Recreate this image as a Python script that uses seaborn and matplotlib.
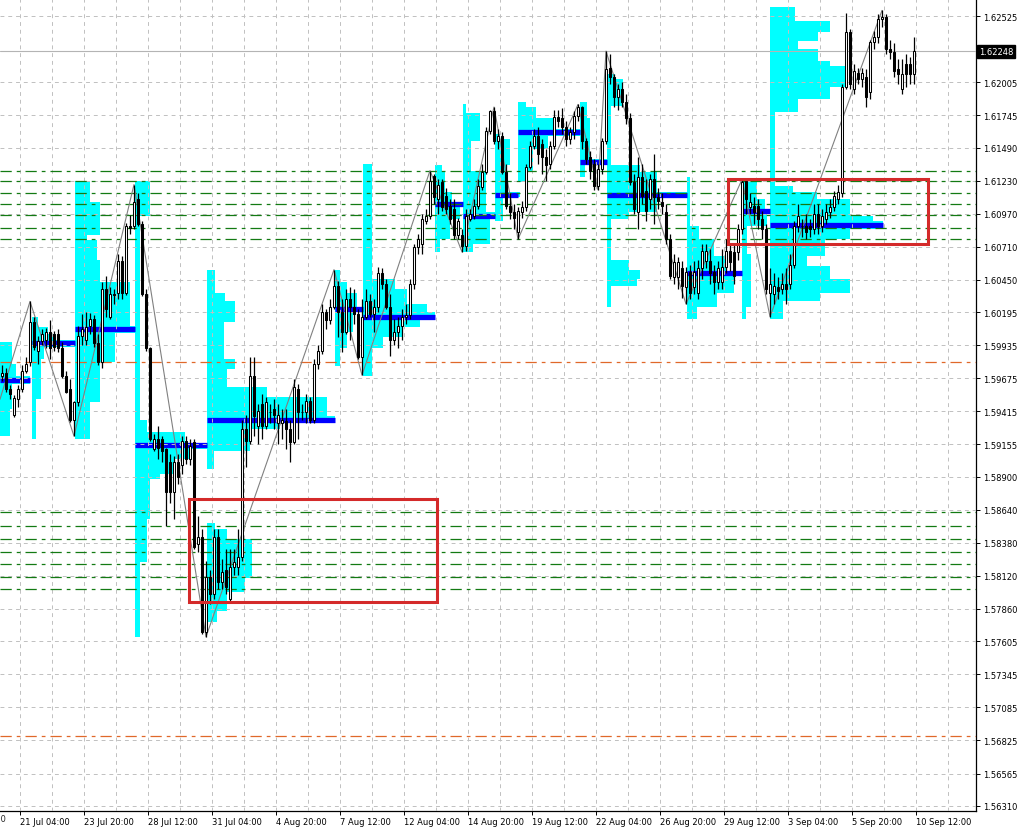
import matplotlib
matplotlib.use("Agg")
import matplotlib.pyplot as plt
import matplotlib.transforms as mtrans
from matplotlib.patches import Rectangle
import seaborn as sns
import numpy as np
import pandas as pd

### H4 candles, bar 0 = first bar on the left edge ###

opens = [
    1.5969, 1.5972, 1.5959, 1.5939, 1.5951, 1.5959, 1.5973, 1.5980, 1.6012, 1.5989,
    1.5997, 1.5998, 1.6004, 1.6002, 1.6002, 1.5991, 1.5969, 1.5959, 1.5935, 1.5949,
    1.6001, 1.5998, 1.6009, 1.6014, 1.5995, 1.5980, 1.6038, 1.6016, 1.6034, 1.6035,
    1.6060, 1.6035, 1.6087, 1.6087, 1.6109, 1.6089, 1.6034, 1.5991, 1.5912, 1.5920,
    1.5920, 1.5912, 1.5902, 1.5878, 1.5902, 1.5899, 1.5918, 1.5904, 1.5917, 1.5837,
    1.5843, 1.5768, 1.5811, 1.5798, 1.5843, 1.5807, 1.5817, 1.5794, 1.5819, 1.5819,
    1.5827, 1.5928, 1.5918, 1.5969, 1.5930, 1.5947, 1.5930, 1.5941, 1.5943, 1.5932,
    1.5932, 1.5934, 1.5928, 1.5917, 1.5959, 1.5941, 1.5941, 1.5950, 1.5935, 1.5979,
    1.5989, 1.6020, 1.6013, 1.6024, 1.6040, 1.6020, 1.6004, 1.6030, 1.6024, 1.6018,
    1.5984, 1.6016, 1.6028, 1.6018, 1.6024, 1.6050, 1.6042, 1.6024, 1.5998, 1.6004,
    1.6009, 1.6016, 1.6017, 1.6042, 1.6071, 1.6073, 1.6091, 1.6095, 1.6127, 1.6109,
    1.6122, 1.6111, 1.6103, 1.6101, 1.6080, 1.6080, 1.6072, 1.6093, 1.6095, 1.6103,
    1.6118, 1.6130, 1.6162, 1.6178, 1.6154, 1.6158, 1.6130, 1.6103, 1.6098, 1.6083,
    1.6098, 1.6102, 1.6134, 1.6150, 1.6158, 1.6152, 1.6142, 1.6136, 1.6150, 1.6173,
    1.6172, 1.6165, 1.6156, 1.6161, 1.6174, 1.6181, 1.6154, 1.6142, 1.6136, 1.6119,
    1.6132, 1.6154, 1.6212, 1.6205, 1.6189, 1.6195, 1.6185, 1.6172, 1.6122, 1.6098,
    1.6126, 1.6115, 1.6109, 1.6124, 1.6110, 1.6106, 1.6098, 1.6077, 1.6047, 1.6047,
    1.6054, 1.6039, 1.6051, 1.6039, 1.6035, 1.6054, 1.6060, 1.6060, 1.6051, 1.6043,
    1.6043, 1.6055, 1.6068, 1.6067, 1.6067, 1.6085, 1.6123, 1.6102, 1.6103, 1.6103,
    1.6093, 1.6085, 1.6035, 1.6034, 1.6039, 1.6038, 1.6042, 1.6042, 1.6057, 1.6087,
    1.6087, 1.6087, 1.6087, 1.6085, 1.6097, 1.6087, 1.6093, 1.6098, 1.6102, 1.6109,
    1.6113, 1.6197, 1.6240, 1.6195, 1.6208, 1.6203, 1.6205, 1.6193, 1.6232, 1.6236,
    1.6250, 1.6252, 1.6227, 1.6224, 1.6211, 1.6195, 1.6215, 1.6215, 1.6207,
]

closes = [
    1.5972, 1.5959, 1.5955, 1.5952, 1.5959, 1.5973, 1.5979, 1.6012, 1.5992, 1.5997,
    1.6002, 1.6004, 1.5991, 1.5992, 1.5991, 1.5969, 1.5957, 1.5935, 1.5949, 1.6001,
    1.6006, 1.6008, 1.6014, 1.5995, 1.5980, 1.6038, 1.6022, 1.6034, 1.6033, 1.6060,
    1.6035, 1.6087, 1.6086, 1.6106, 1.6089, 1.6034, 1.5991, 1.5920, 1.5920, 1.5913,
    1.5910, 1.5878, 1.5878, 1.5902, 1.5890, 1.5918, 1.5904, 1.5914, 1.5835, 1.5843,
    1.5768, 1.5811, 1.5798, 1.5843, 1.5807, 1.5815, 1.5803, 1.5819, 1.5823, 1.5827,
    1.5928, 1.5918, 1.5969, 1.5938, 1.5942, 1.5930, 1.5949, 1.5941, 1.5939, 1.5939,
    1.5935, 1.5928, 1.5917, 1.5961, 1.5941, 1.5941, 1.5950, 1.5935, 1.5979, 1.5989,
    1.6020, 1.6013, 1.6024, 1.6040, 1.6020, 1.6004, 1.6030, 1.6024, 1.6018, 1.5984,
    1.6016, 1.6028, 1.6018, 1.6024, 1.6050, 1.6042, 1.6024, 1.5998, 1.6004, 1.6009,
    1.6016, 1.6017, 1.6042, 1.6071, 1.6077, 1.6093, 1.6095, 1.6123, 1.6110, 1.6120,
    1.6102, 1.6101, 1.6093, 1.6080, 1.6091, 1.6072, 1.6095, 1.6097, 1.6103, 1.6119,
    1.6130, 1.6162, 1.6178, 1.6154, 1.6158, 1.6130, 1.6103, 1.6098, 1.6094, 1.6099,
    1.6102, 1.6134, 1.6150, 1.6158, 1.6144, 1.6142, 1.6135, 1.6150, 1.6173, 1.6170,
    1.6165, 1.6156, 1.6161, 1.6174, 1.6181, 1.6154, 1.6140, 1.6131, 1.6119, 1.6132,
    1.6154, 1.6211, 1.6205, 1.6189, 1.6195, 1.6185, 1.6172, 1.6122, 1.6101, 1.6126,
    1.6111, 1.6099, 1.6124, 1.6110, 1.6107, 1.6103, 1.6077, 1.6048, 1.6059, 1.6059,
    1.6040, 1.6051, 1.6035, 1.6051, 1.6054, 1.6068, 1.6068, 1.6050, 1.6043, 1.6054,
    1.6055, 1.6068, 1.6059, 1.6048, 1.6085, 1.6122, 1.6109, 1.6106, 1.6098, 1.6093,
    1.6085, 1.6038, 1.6042, 1.6040, 1.6036, 1.6042, 1.6038, 1.6057, 1.6087, 1.6095,
    1.6087, 1.6083, 1.6085, 1.6097, 1.6087, 1.6095, 1.6098, 1.6102, 1.6111, 1.6114,
    1.6197, 1.6240, 1.6199, 1.6209, 1.6203, 1.6208, 1.6189, 1.6232, 1.6236, 1.6250,
    1.6252, 1.6227, 1.6224, 1.6209, 1.6207, 1.6207, 1.6207, 1.6207, 1.6225,
]

highs = [
    1.5978, 1.5976, 1.5962, 1.5954, 1.5962, 1.5978, 1.5984, 1.6028, 1.6016, 1.6001,
    1.6006, 1.6007, 1.6013, 1.6005, 1.6006, 1.5996, 1.5973, 1.5967, 1.5950, 1.6009,
    1.6018, 1.6020, 1.6019, 1.6017, 1.6002, 1.6043, 1.6048, 1.6039, 1.6038, 1.6065,
    1.6064, 1.6090, 1.6096, 1.6120, 1.6113, 1.6091, 1.6038, 1.5992, 1.5924, 1.5930,
    1.5922, 1.5913, 1.5908, 1.5906, 1.5908, 1.5922, 1.5922, 1.5920, 1.5920, 1.5859,
    1.5849, 1.5824, 1.5817, 1.5849, 1.5849, 1.5825, 1.5833, 1.5833, 1.5833, 1.5849,
    1.5935, 1.5939, 1.5984, 1.5984, 1.5947, 1.5955, 1.5953, 1.5947, 1.5951, 1.5947,
    1.5943, 1.5943, 1.5935, 1.5967, 1.5963, 1.5947, 1.5955, 1.5953, 1.5983, 1.5994,
    1.6026, 1.6022, 1.6030, 1.6053, 1.6044, 1.6030, 1.6038, 1.6039, 1.6038, 1.6022,
    1.6030, 1.6038, 1.6034, 1.6030, 1.6055, 1.6054, 1.6046, 1.6034, 1.6014, 1.6016,
    1.6022, 1.6026, 1.6046, 1.6073, 1.6081, 1.6097, 1.6101, 1.6131, 1.6128, 1.6124,
    1.6124, 1.6117, 1.6109, 1.6109, 1.6094, 1.6085, 1.6101, 1.6101, 1.6109, 1.6124,
    1.6136, 1.6165, 1.6179, 1.6181, 1.6164, 1.6161, 1.6136, 1.6113, 1.6105, 1.6102,
    1.6107, 1.6136, 1.6154, 1.6164, 1.6165, 1.6156, 1.6148, 1.6154, 1.6179, 1.6179,
    1.6180, 1.6170, 1.6165, 1.6178, 1.6183, 1.6182, 1.6157, 1.6146, 1.6140, 1.6136,
    1.6157, 1.6225, 1.6223, 1.6207, 1.6199, 1.6201, 1.6191, 1.6176, 1.6128, 1.6142,
    1.6136, 1.6124, 1.6128, 1.6144, 1.6117, 1.6113, 1.6105, 1.6081, 1.6065, 1.6063,
    1.6060, 1.6055, 1.6057, 1.6060, 1.6061, 1.6073, 1.6073, 1.6069, 1.6057, 1.6060,
    1.6069, 1.6077, 1.6073, 1.6073, 1.6089, 1.6124, 1.6124, 1.6113, 1.6110, 1.6109,
    1.6099, 1.6089, 1.6054, 1.6050, 1.6047, 1.6050, 1.6054, 1.6065, 1.6091, 1.6105,
    1.6093, 1.6097, 1.6093, 1.6105, 1.6105, 1.6101, 1.6105, 1.6109, 1.6115, 1.6120,
    1.6199, 1.6255, 1.6242, 1.6215, 1.6212, 1.6212, 1.6211, 1.6234, 1.6241, 1.6254,
    1.6257, 1.6254, 1.6234, 1.6231, 1.6219, 1.6219, 1.6223, 1.6220, 1.6236,
]

lows = [
    1.5965, 1.5957, 1.5951, 1.5937, 1.5945, 1.5957, 1.5972, 1.5977, 1.5990, 1.5979,
    1.5994, 1.5991, 1.5983, 1.5989, 1.5988, 1.5968, 1.5956, 1.5933, 1.5922, 1.5946,
    1.5994, 1.5994, 1.6002, 1.5992, 1.5978, 1.5976, 1.6016, 1.6014, 1.6026, 1.6030,
    1.6030, 1.6033, 1.6081, 1.6085, 1.6087, 1.6032, 1.5989, 1.5918, 1.5910, 1.5904,
    1.5902, 1.5851, 1.5869, 1.5857, 1.5884, 1.5892, 1.5900, 1.5899, 1.5833, 1.5831,
    1.5766, 1.5764, 1.5790, 1.5794, 1.5802, 1.5802, 1.5798, 1.5791, 1.5813, 1.5813,
    1.5824, 1.5898, 1.5916, 1.5922, 1.5916, 1.5920, 1.5928, 1.5932, 1.5928, 1.5916,
    1.5920, 1.5912, 1.5902, 1.5916, 1.5920, 1.5935, 1.5932, 1.5932, 1.5932, 1.5975,
    1.5987, 1.6006, 1.6010, 1.6022, 1.6000, 1.5988, 1.6002, 1.5998, 1.6010, 1.5983,
    1.5970, 1.6014, 1.6016, 1.6004, 1.6020, 1.6038, 1.6022, 1.5985, 1.5994, 1.5991,
    1.5998, 1.6010, 1.6014, 1.6038, 1.6065, 1.6065, 1.6089, 1.6093, 1.6105, 1.6097,
    1.6099, 1.6097, 1.6089, 1.6077, 1.6077, 1.6067, 1.6068, 1.6091, 1.6093, 1.6101,
    1.6116, 1.6128, 1.6160, 1.6152, 1.6148, 1.6128, 1.6101, 1.6093, 1.6085, 1.6077,
    1.6094, 1.6099, 1.6132, 1.6148, 1.6136, 1.6128, 1.6123, 1.6132, 1.6148, 1.6165,
    1.6160, 1.6150, 1.6152, 1.6156, 1.6170, 1.6148, 1.6136, 1.6124, 1.6116, 1.6116,
    1.6128, 1.6152, 1.6199, 1.6181, 1.6179, 1.6181, 1.6168, 1.6120, 1.6097, 1.6085,
    1.6105, 1.6091, 1.6101, 1.6089, 1.6101, 1.6097, 1.6073, 1.6046, 1.6042, 1.6038,
    1.6031, 1.6026, 1.6030, 1.6034, 1.6030, 1.6046, 1.6054, 1.6042, 1.6034, 1.6038,
    1.6038, 1.6050, 1.6052, 1.6042, 1.6061, 1.6081, 1.6097, 1.6097, 1.6089, 1.6085,
    1.6077, 1.6034, 1.6016, 1.6026, 1.6030, 1.6034, 1.6026, 1.6038, 1.6054, 1.6083,
    1.6079, 1.6077, 1.6079, 1.6081, 1.6081, 1.6083, 1.6089, 1.6094, 1.6099, 1.6105,
    1.6110, 1.6195, 1.6195, 1.6191, 1.6199, 1.6197, 1.6181, 1.6187, 1.6227, 1.6231,
    1.6244, 1.6223, 1.6219, 1.6205, 1.6199, 1.6191, 1.6197, 1.6199, 1.6199,
]

### zigzag (bar position, price) ###
zz_bar = [0.0, 7.5, 18.5, 33.5, 51.5, 83.5, 90.5, 107.5, 115.5, 123.5, 129.5,
          144.5, 149.5, 151.5, 171.5, 185.5, 192.5, 220.5]
zz_price = [1.5951, 1.6028, 1.5922, 1.6120, 1.5764, 1.6053, 1.5970, 1.6131, 1.6067,
            1.6181, 1.6077, 1.6183, 1.6116, 1.6225, 1.6026, 1.6124, 1.6016, 1.6257]

### volume profiles : (price high, price low, length in bars) ###
vp01 = [(1.5996, 1.5979, 3), (1.5979, 1.5969, 4), (1.5969, 1.5963, 7.5), (1.5963, 1.5943, 3),
        (1.5943, 1.5922, 2.5)]
vp02 = [(1.6016, 1.6008, 1.5), (1.6008, 1.6002, 4), (1.6002, 1.5998, 6), (1.5998, 1.5992, 10.75),
        (1.5992, 1.5983, 3), (1.5983, 1.5951, 2.25), (1.5951, 1.5920, 1)]
vp03 = [(1.6123, 1.6106, 3.75), (1.6106, 1.6080, 6.25), (1.6080, 1.6076, 3), (1.6076, 1.6061, 5.5),
        (1.6061, 1.6043, 6.25), (1.6043, 1.6009, 13.75), (1.6009, 1.6003, 15), (1.6003, 1.5980, 10),
        (1.5980, 1.5949, 6.25), (1.5949, 1.5920, 3.75)]
vp04 = [(1.6123, 1.6095, 3.75), (1.6095, 1.5935, 1.25), (1.5935, 1.5925, 3), (1.5925, 1.5916, 12.5),
        (1.5916, 1.5912, 18), (1.5912, 1.5904, 13.75), (1.5904, 1.5892, 10), (1.5892, 1.5888, 6.25),
        (1.5888, 1.5857, 3.75), (1.5857, 1.5823, 3), (1.5823, 1.5764, 1.25)]
vp05 = [(1.6053, 1.6035, 2), (1.6035, 1.6028, 4.5), (1.6028, 1.6012, 7), (1.6012, 1.5983, 4.25),
        (1.5983, 1.5975, 7), (1.5975, 1.5961, 5), (1.5961, 1.5953, 15), (1.5953, 1.5938, 30),
        (1.5938, 1.5933, 32), (1.5933, 1.5928, 18.25), (1.5928, 1.5910, 10.75), (1.5910, 1.5896, 1.75),
        (1.5854, 1.5849, 2), (1.5849, 1.5841, 5), (1.5841, 1.5810, 11.25), (1.5810, 1.5799, 9.5),
        (1.5799, 1.5784, 5), (1.5784, 1.5776, 2.5)]
vp06 = [(1.6053, 1.6043, 1.25), (1.6043, 1.6035, 3), (1.6035, 1.6024, 5.5), (1.6024, 1.6020, 7),
        (1.6020, 1.6004, 4.5), (1.6004, 1.5991, 3), (1.5991, 1.5977, 1.25)]
vp07 = [(1.6136, 1.6046, 2.25), (1.6046, 1.6038, 8), (1.6038, 1.6026, 11), (1.6026, 1.6020, 16),
        (1.6020, 1.6013, 18), (1.6013, 1.6008, 14.25), (1.6008, 1.6000, 10), (1.6000, 1.5991, 5),
        (1.5991, 1.5969, 2.25)]
vp08 = [(1.6135, 1.6130, 1.75), (1.6130, 1.6114, 2.5), (1.6114, 1.6106, 4.25), (1.6106, 1.6102, 7),
        (1.6102, 1.6093, 6.25), (1.6093, 1.6077, 3.75), (1.6077, 1.6067, 1.25)]
vp09 = [(1.6183, 1.6176, 0.75), (1.6176, 1.6154, 4.25), (1.6154, 1.6131, 2), (1.6131, 1.6098, 5.75),
        (1.6098, 1.6093, 8), (1.6093, 1.6073, 6.75), (1.6073, 1.6067, 2.5)]
vp10 = [(1.6160, 1.6156, 1.25), (1.6156, 1.6135, 3.75), (1.6135, 1.6114, 3), (1.6114, 1.6110, 6.25),
        (1.6110, 1.6091, 2)]
vp11 = [(1.6185, 1.6181, 2), (1.6181, 1.6172, 4.5), (1.6172, 1.6164, 9.5), (1.6164, 1.6158, 15.5),
        (1.6158, 1.6148, 7.5), (1.6148, 1.6130, 3.75), (1.6130, 1.6122, 1.75)]
vp12 = [(1.6185, 1.6172, 1.75), (1.6172, 1.6140, 2.5), (1.6140, 1.6135, 6.75), (1.6135, 1.6126, 1.25)]
vp13 = [(1.6207, 1.6203, 2), (1.6203, 1.6182, 4), (1.6182, 1.6135, 1), (1.6135, 1.6130, 8.25),
        (1.6130, 1.6114, 12.5), (1.6114, 1.6110, 20), (1.6110, 1.6098, 12.5), (1.6098, 1.6093, 5.5),
        (1.6093, 1.6061, 1), (1.6061, 1.6053, 5.5), (1.6053, 1.6046, 8.25), (1.6046, 1.6040, 7.5),
        (1.6040, 1.6024, 1)]
vp14 = [(1.6126, 1.6087, 0.75), (1.6087, 1.6077, 3), (1.6077, 1.6064, 6.75), (1.6064, 1.6051, 10),
        (1.6051, 1.6048, 13.75), (1.6048, 1.6035, 11.75), (1.6035, 1.6024, 7.5), (1.6024, 1.6014, 2.5)]
vp15 = [(1.6124, 1.6109, 3.75), (1.6109, 1.6101, 5.75), (1.6101, 1.6098, 7.5), (1.6098, 1.6087, 6.25),
        (1.6087, 1.6065, 1.25), (1.6065, 1.6024, 2.25), (1.6024, 1.6014, 1)]
vp16 = [(1.6260, 1.6249, 6.25), (1.6249, 1.6240, 15), (1.6240, 1.6233, 12), (1.6233, 1.6227, 7),
        (1.6227, 1.6217, 12), (1.6217, 1.6213, 15), (1.6213, 1.6197, 18.75), (1.6197, 1.6187, 15),
        (1.6187, 1.6177, 7), (1.6177, 1.6119, 1.25), (1.6119, 1.6114, 5.75), (1.6114, 1.6109, 11.75),
        (1.6109, 1.6095, 20), (1.6095, 1.6091, 25.75), (1.6091, 1.6085, 28.25), (1.6085, 1.6077, 20),
        (1.6077, 1.6064, 13.75), (1.6064, 1.6056, 9.25), (1.6056, 1.6046, 15), (1.6046, 1.6035, 20),
        (1.6035, 1.6028, 12.5), (1.6028, 1.6014, 3.25)]

vp_start = [0, 8, 18.75, 33.75, 51.75, 83.75, 90.75, 108.75, 115.75, 123.75, 129.5,
            145, 151.75, 171.75, 185.5, 192.5]
vp_list = [vp01, vp02, vp03, vp04, vp05, vp06, vp07, vp08, vp09, vp10, vp11, vp12,
           vp13, vp14, vp15, vp16]

### POC lines ###
poc_price = [1.5966, 1.5995, 1.6006, 1.5915, 1.5935, 1.6022, 1.6016, 1.6105, 1.6095, 1.6112,
             1.6161, 1.6138, 1.6112, 1.6050, 1.6099, 1.6088]
poc_end = [7.5, 18.75, 33.75, 51.75, 83.75, 90.75, 108.75, 115.75, 123.75, 129.5, 145,
           151.75, 171.75, 185.5, 192.5, 220.75]

### levels ###
green_levels = [1.6131, 1.6123, 1.6113, 1.6105, 1.6096, 1.6086, 1.6077,
                1.5862, 1.5851, 1.5841, 1.5831, 1.5821, 1.5811, 1.5802]
orange_levels = [1.5980, 1.5686]
boxes = [(47.25, 109.25, 1.57914, 1.58725), (182, 232, 1.60732, 1.61243)]
last_price = 1.62248

y_ticks = [1.62525, 1.62005, 1.61745, 1.61490, 1.61230, 1.60970, 1.60710, 1.60450, 1.60195,
           1.59935, 1.59675, 1.59415, 1.59155, 1.58900, 1.58640, 1.58380, 1.58120, 1.57860,
           1.57605, 1.57345, 1.57085, 1.56825, 1.56565, 1.56310]
x_labels = ['21 Jul 04:00', '23 Jul 20:00', '28 Jul 12:00', '31 Jul 04:00', '4 Aug 20:00',
            '7 Aug 12:00', '12 Aug 04:00', '14 Aug 20:00', '19 Aug 12:00', '22 Aug 04:00',
            '26 Aug 20:00', '29 Aug 12:00', '3 Sep 04:00', '5 Sep 20:00', '10 Sep 12:00']

sns.set_style("white")
plt.rcParams['font.family'] = ['DejaVu Sans']

df = pd.DataFrame({'open': opens, 'high': highs, 'low': lows, 'close': closes})
df['x'] = np.arange(len(df)) + 0.5
df['bottom'] = df[['open', 'close']].min(axis=1)
df['body'] = (df['close'] - df['open']).abs().clip(lower=0.00002)
df['fill'] = np.where(df['close'] >= df['open'], 'white', 'black')

fig = plt.figure(figsize=(10.24, 8.29), dpi=100)
ax = fig.add_axes([0, 17 / 829, 976 / 1024, 812 / 829])

# volume profiles
for start, blocks in zip(vp_start, vp_list):
    for hi, lo, w in blocks:
        ax.barh(lo, w, height=hi - lo, left=start, align='edge', color='#00ffff',
                edgecolor='none', zorder=1)

# POC
for start, end, p in zip(vp_start, poc_end, poc_price):
    ax.plot([start, end], [p, p], color='#0000ff', lw=3.8, solid_capstyle='butt', zorder=2)

# grid
for yv in y_ticks:
    ax.axhline(yv, color='#c0c0c0', lw=0.7, ls=(0, (4, 4)), zorder=3)
for xv in np.arange(5, 244, 8):
    ax.axvline(xv, color='#c0c0c0', lw=0.7, ls=(0, (4, 4)), zorder=3)

ax.axhline(last_price, color='#b4b4b4', lw=0.8, zorder=3)
for lv in green_levels:
    ax.axhline(lv, color='#137a13', lw=0.9, ls=(0, (9, 4, 3, 4)), zorder=3.5)
for lv in orange_levels:
    ax.axhline(lv, color='#e0682a', lw=0.9, ls=(0, (9, 4, 3, 4)), zorder=3.5)

# zigzag
zz = pd.DataFrame({'bar': zz_bar, 'price': zz_price})
sns.lineplot(data=zz, x='bar', y='price', ax=ax, color='#808080', lw=0.8, sort=False,
             estimator=None, zorder=4)

# candles
ax.vlines(df['x'], df['low'], df['high'], color='black', lw=0.9, zorder=5)
ax.bar(df['x'], df['body'], bottom=df['bottom'], width=0.68, color=df['fill'],
       edgecolor='black', linewidth=0.75, zorder=6)

for x0, x1, lo, hi in boxes:
    ax.add_patch(Rectangle((x0, lo), x1 - x0, hi - lo, fill=False, edgecolor='#d42a2a',
                           lw=2.2, zorder=7))

ax.set_xlim(0, 244)
ax.set_ylim(1.56270, 1.62660)
ax.set_xlabel('')
ax.set_ylabel('')

for s in ['top', 'left']:
    ax.spines[s].set_visible(False)
for s in ['right', 'bottom']:
    ax.spines[s].set_color('black')
    ax.spines[s].set_linewidth(0.9)

ax.yaxis.tick_right()
ax.set_yticks(y_ticks)
ax.set_yticklabels(['%.5f' % v for v in y_ticks])
ax.tick_params(axis='y', length=3, width=0.7, labelsize=6, pad=2, colors='black', right=True, left=False)

x_pos = [5 + 16 * k for k in range(len(x_labels))]
ax.set_xticks(x_pos)
ax.set_xticklabels(x_labels)
for lab in ax.get_xticklabels():
    lab.set_ha('left')
ax.tick_params(axis='x', length=3, width=0.7, labelsize=6, pad=1.5, colors='black', bottom=True)
# label of the bar before the window, only its tail shows at the left edge
ax.text(-11, -0.004, '18 Jul 12:00', transform=mtrans.blended_transform_factory(ax.transData, ax.transAxes),
        fontsize=6, ha='left', va='top', clip_on=False)

trans = mtrans.blended_transform_factory(ax.transAxes, ax.transData)
ax.text(1.003, last_price, '1.62248', transform=trans, fontsize=6, color='white', ha='left',
        va='center', bbox=dict(boxstyle='square,pad=0.25', fc='black', ec='black'))

fig.savefig('out.png', dpi=100)
